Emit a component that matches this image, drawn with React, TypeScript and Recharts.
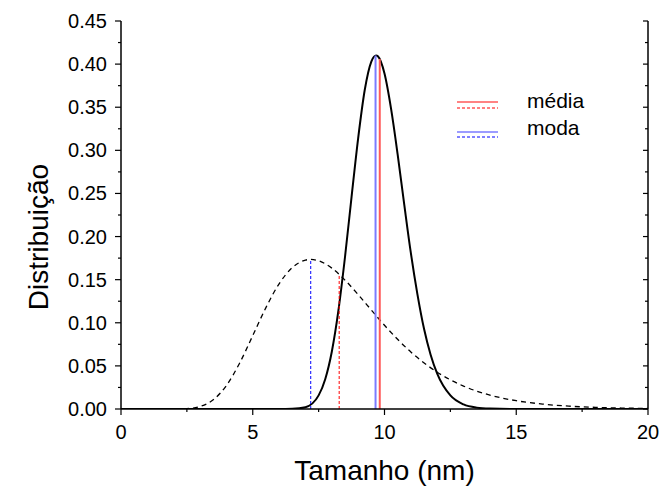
import React from 'react';
import { LineChart, Line, XAxis, YAxis } from 'recharts';

// curva cheia (distribuição estreita)
const tamanhoCheia = [0, 1, 2, 3, 4, 5, 6, 6.5, 7, 7.5, 7.75, 8, 8.25, 8.5, 8.75, 9, 9.25, 9.5, 9.68, 9.75, 10, 10.25, 10.5, 10.75, 11, 11.25, 11.5, 11.75, 12, 12.5, 13, 13.5, 14, 15, 16, 17, 18, 19, 20];
const distCheia = [0, 0, 0, 0, 0, 0, 0, 0.0002, 0.0021, 0.0158, 0.0345, 0.0664, 0.114, 0.176, 0.246, 0.314, 0.37, 0.403, 0.41, 0.409, 0.389, 0.348, 0.295, 0.237, 0.181, 0.133, 0.093, 0.063, 0.041, 0.0157, 0.0053, 0.0016, 0.0005, 0, 0, 0, 0, 0, 0];

// curva tracejada (distribuição larga)
const tamanhoTracejada = [0, 1, 2, 2.5, 3, 3.5, 4, 4.5, 5, 5.5, 6, 6.5, 7, 7.2, 7.5, 8, 8.5, 9, 9.5, 10, 11, 12, 13, 14, 15, 16, 17, 18, 19, 20];
const distTracejada = [0, 0, 0, 0.0004, 0.0029, 0.0107, 0.0272, 0.0531, 0.0851, 0.1176, 0.1452, 0.164, 0.1727, 0.1735, 0.1719, 0.1634, 0.1495, 0.1327, 0.1148, 0.0971, 0.0661, 0.0427, 0.0266, 0.0161, 0.0096, 0.0057, 0.0033, 0.0019, 0.0011, 0.0006];

// média e moda: [posição, altura]
const mediaCheia = [9.82, 0.406];
const modaCheia = [9.66, 0.41];
const mediaTracejada = [8.28, 0.155];
const modaTracejada = [7.2, 0.1735];

const xTicks = [0, 2.5, 5, 7.5, 10, 12.5, 15, 17.5, 20];
const xLabels = [0, 5, 10, 15, 20];
const yTicks = [0, 0.025, 0.05, 0.075, 0.1, 0.125, 0.15, 0.175, 0.2, 0.225, 0.25, 0.275, 0.3, 0.325, 0.35, 0.375, 0.4, 0.425, 0.45];
const yLabels = [0, 0.05, 0.1, 0.15, 0.2, 0.25, 0.3, 0.35, 0.4, 0.45];

const FONT = '"Liberation Sans", Arial, sans-serif';

const toPoints = (xs: number[], ys: number[]) => xs.map((x, i) => ({ x, y: ys[i] }));
const vertical = (v: number[]) => [{ x: v[0], y: 0 }, { x: v[0], y: v[1] }];

const isMajorX = (v: number) => xLabels.includes(v);
const isMajorY = (v: number) => yLabels.some((l) => Math.abs(l - v) < 1e-9);

const BottomTick = (props: any) => {
    const { x, y, payload } = props;
    const major = isMajorX(payload.value);
    return (
        <g>
            <line x1={x} x2={x} y1={y} y2={y + (major ? 6 : 3)} stroke="#000" strokeWidth={1.2} />
            {major && (
                <text x={x} y={y + 30} textAnchor="middle" fontSize={20} fontFamily={FONT} fill="#000">
                    {payload.value}
                </text>
            )}
        </g>
    );
};

const TopTick = (props: any) => {
    const { x, y, payload } = props;
    const major = isMajorX(payload.value);
    return <line x1={x} x2={x} y1={y} y2={y + (major ? 5 : 3)} stroke="#000" strokeWidth={1.2} />;
};

const LeftTick = (props: any) => {
    const { x, y, payload } = props;
    const major = isMajorY(payload.value);
    return (
        <g>
            <line x1={x} x2={x - (major ? 6 : 3)} y1={y} y2={y} stroke="#000" strokeWidth={1.2} />
            {major && (
                <text x={x - 14} y={y + 7} textAnchor="end" fontSize={20} fontFamily={FONT} fill="#000">
                    {payload.value.toFixed(2)}
                </text>
            )}
        </g>
    );
};

const RightTick = (props: any) => {
    const { x, y, payload } = props;
    const major = isMajorY(payload.value);
    return <line x1={x} x2={x - (major ? 5 : 3)} y1={y} y2={y} stroke="#000" strokeWidth={1.2} />;
};

const axisLine = { stroke: '#000', strokeWidth: 1.5 };

export default function App() {
    return (
        <div style={{ position: 'absolute', left: 0, top: 0, width: 662, height: 488, background: '#fff' }}>
            <LineChart width={662} height={488} margin={{ top: 21, right: 0, bottom: 0, left: 0 }}>
                <XAxis
                    dataKey="x"
                    type="number"
                    domain={[0, 20]}
                    ticks={xTicks}
                    height={79}
                    tickSize={0}
                    tickMargin={0}
                    tickLine={false}
                    axisLine={axisLine}
                    tick={BottomTick}
                    interval={0}
                    allowDataOverflow
                />
                <XAxis
                    xAxisId="top"
                    orientation="top"
                    dataKey="x"
                    type="number"
                    domain={[0, 20]}
                    ticks={xTicks}
                    height={0}
                    tickSize={0}
                    tickMargin={0}
                    tickLine={false}
                    axisLine={axisLine}
                    tick={TopTick}
                    interval={0}
                    allowDataOverflow
                />
                <YAxis
                    type="number"
                    domain={[0, 0.45]}
                    ticks={yTicks}
                    width={121}
                    tickSize={0}
                    tickMargin={0}
                    tickLine={false}
                    axisLine={axisLine}
                    tick={LeftTick}
                    interval={0}
                    allowDataOverflow
                />
                <YAxis
                    yAxisId="right"
                    orientation="right"
                    type="number"
                    domain={[0, 0.45]}
                    ticks={yTicks}
                    width={14}
                    tickSize={0}
                    tickMargin={0}
                    tickLine={false}
                    axisLine={axisLine}
                    tick={RightTick}
                    interval={0}
                    allowDataOverflow
                />
                <Line
                    data={toPoints(tamanhoTracejada, distTracejada)}
                    dataKey="y"
                    type="monotone"
                    stroke="#000"
                    strokeWidth={1.3}
                    strokeDasharray="5 4"
                    dot={false}
                    isAnimationActive={false}
                />
                <Line
                    data={toPoints(tamanhoCheia, distCheia)}
                    dataKey="y"
                    type="monotone"
                    stroke="#000"
                    strokeWidth={2}
                    dot={false}
                    isAnimationActive={false}
                />
                <Line data={vertical(modaTracejada)} dataKey="y" type="linear" stroke="#0000ff" strokeWidth={1} strokeDasharray="3 2" dot={false} isAnimationActive={false} />
                <Line data={vertical(mediaTracejada)} dataKey="y" type="linear" stroke="#ff0000" strokeWidth={1} strokeDasharray="3 2" dot={false} isAnimationActive={false} />
                <Line data={vertical(modaCheia)} dataKey="y" type="linear" stroke="#7b7bff" strokeWidth={2} dot={false} isAnimationActive={false} />
                <Line data={vertical(mediaCheia)} dataKey="y" type="linear" stroke="#ff5a5a" strokeWidth={2} dot={false} isAnimationActive={false} />
            </LineChart>

            <svg width={662} height={488} style={{ position: 'absolute', left: 0, top: 0, pointerEvents: 'none' }}>
                {/* legenda */}
                <line x1={457} x2={498} y1={102} y2={102} stroke="#ff5a5a" strokeWidth={1.5} />
                <line x1={457} x2={498} y1={108} y2={108} stroke="#ff0000" strokeWidth={1} strokeDasharray="3 2" />
                <text x={527} y={108} fontSize={21} fontFamily={FONT} fill="#000">média</text>
                <line x1={457} x2={498} y1={132} y2={132} stroke="#7b7bff" strokeWidth={1.5} />
                <line x1={457} x2={498} y1={137} y2={137} stroke="#0000ff" strokeWidth={1} strokeDasharray="3 2" />
                <text x={527} y={135} fontSize={21} fontFamily={FONT} fill="#000">moda</text>

                {/* títulos dos eixos */}
                <text x={384.5} y={480} textAnchor="middle" fontSize={28} fontFamily={FONT} fill="#000">Tamanho (nm)</text>
                <text x={48} y={237} textAnchor="middle" fontSize={28} fontFamily={FONT} fill="#000" transform="rotate(-90, 48, 237)">
                    Distribuição
                </text>
            </svg>
        </div>
    );
}
